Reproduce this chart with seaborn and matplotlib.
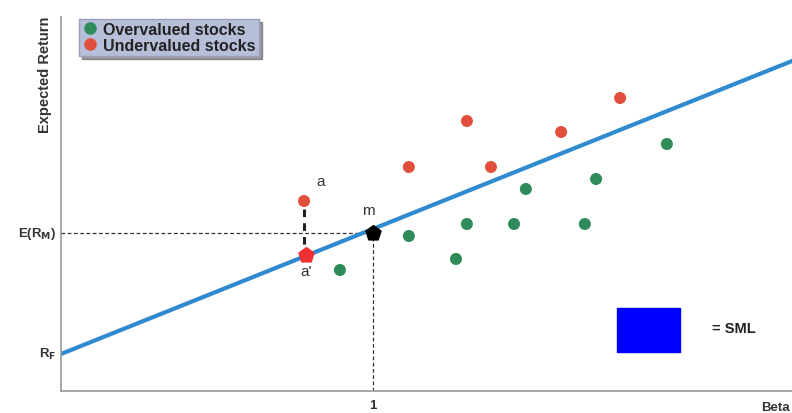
import numpy as np
import pandas as pd
import matplotlib
matplotlib.use("Agg")
import matplotlib.pyplot as plt
import seaborn as sns

sns.set_style("white")
plt.rcParams['font.family'] = ['Liberation Sans', 'DejaVu Sans']

# data (beta, expected return)
over_beta = [0.894, 1.115, 1.266, 1.301, 1.452, 1.490, 1.679, 1.715, 1.942]
over_ret = [1.21, 1.55, 1.32, 1.67, 1.67, 2.02, 1.67, 2.12, 2.47]
under_beta = [0.779, 1.115, 1.301, 1.378, 1.603, 1.792]
under_ret = [1.90, 2.24, 2.70, 2.24, 2.59, 2.93]
sml_beta = [0.0, 2.343]
sml_ret = [0.37, 3.30]
rf = 0.37
erm = 1.58
m_point = (1.0, 1.58)
a_prime = (0.785, 1.36)

df = pd.DataFrame({
    "beta": over_beta + under_beta,
    "ret": over_ret + under_ret,
    "kind": ["Overvalued stocks"] * len(over_beta) + ["Undervalued stocks"] * len(under_beta),
})
palette = {"Overvalued stocks": "#2e8b5a", "Undervalued stocks": "#e0503c"}

fig = plt.figure(figsize=(7.92, 4.14), dpi=100)
ax = fig.add_axes([61 / 792, 22 / 414, 1 - 61 / 792, 374 / 414])

# SML
sns.lineplot(x=sml_beta, y=sml_ret, ax=ax, color="#2f8ad0", lw=3, zorder=2)

# dashed guides
ax.plot([0, m_point[0]], [erm, erm], ls=(0, (3, 2)), color="#333333", lw=0.9, zorder=1)
ax.plot([m_point[0], m_point[0]], [0, erm], ls=(0, (3, 2)), color="#333333", lw=0.9, zorder=1)
ax.plot([under_beta[0], under_beta[0]], [under_ret[0] - 0.08, a_prime[1] + 0.1],
        ls=(0, (2.5, 2)), color="#222222", lw=2.2, zorder=1)

sns.scatterplot(data=df, x="beta", y="ret", hue="kind", palette=palette, s=75,
                edgecolor="none", ax=ax, zorder=3, legend=False)

ax.scatter([a_prime[0]], [a_prime[1]], marker="p", s=130, color="#f03030", zorder=4)
ax.scatter([m_point[0]], [m_point[1]], marker="p", s=130, color="black", zorder=4)

ax.text(0.833, 2.10, "a", fontsize=11, color="#333333", ha="center", va="center")
ax.text(0.985, 1.81, "m", fontsize=11, color="#333333", ha="center", va="center")
ax.text(0.785, 1.20, "a'", fontsize=11, color="#333333", ha="center", va="center")

ax.set_xlim(0, 2.343)
ax.set_ylim(0, 3.74)
ax.set_xticks([])
ax.set_yticks([])
ax.set_xlabel("")
ax.set_ylabel("")
for s in ["top", "right"]:
    ax.spines[s].set_visible(False)
for s in ["left", "bottom"]:
    ax.spines[s].set_color("#999999")
    ax.spines[s].set_linewidth(1.2)

# axis annotations
fig.text(45 / 792, 1 - 75 / 414, "Expected Return", rotation=90, fontsize=10.5, fontweight="bold",
         ha="center", va="center", color="#333333")
fig.text(56 / 792, 1 - 234 / 414, r"E(R$_{\mathbf{M}}$)", fontsize=9.5, fontweight="bold",
         ha="right", va="center", color="#333333")
fig.text(56 / 792, 1 - 354 / 414, r"R$_{\mathbf{F}}$", fontsize=9.5, fontweight="bold",
         ha="right", va="center", color="#333333")
fig.text(373 / 792, 1 - 406 / 414, "1", fontsize=9.5, fontweight="bold", ha="center", va="center",
         color="#333333")
fig.text(790 / 792, 1 - 408 / 414, "Beta", fontsize=9.5, fontweight="bold", ha="right", va="center",
         color="#333333")

# SML key
fig.patches.append(plt.Rectangle((617 / 792, 1 - 353 / 414), 63 / 792, 44 / 414,
                                 transform=fig.transFigure, color="#0000ff", figure=fig))
fig.text(712 / 792, 1 - 329 / 414, "= SML", fontsize=10.5, fontweight="bold", ha="left",
         va="center", color="#222222")

# legend
handles = [plt.Line2D([], [], marker="o", ls="", color=palette[k], markersize=8) for k in palette]
leg = ax.legend(handles, list(palette.keys()), loc="upper left", bbox_to_anchor=(0.025, 0.995),
                frameon=True, fancybox=False, shadow=True, fontsize=11.5, handletextpad=0.3,
                borderpad=0.2, labelspacing=0.05, handlelength=1.0, borderaxespad=0)
leg.get_frame().set_facecolor("#b7bed8")
leg.get_frame().set_edgecolor("#9aa0bb")
for t in leg.get_texts():
    t.set_fontweight("bold")
    t.set_color("#222222")

fig.savefig("out.png", dpi=100)
